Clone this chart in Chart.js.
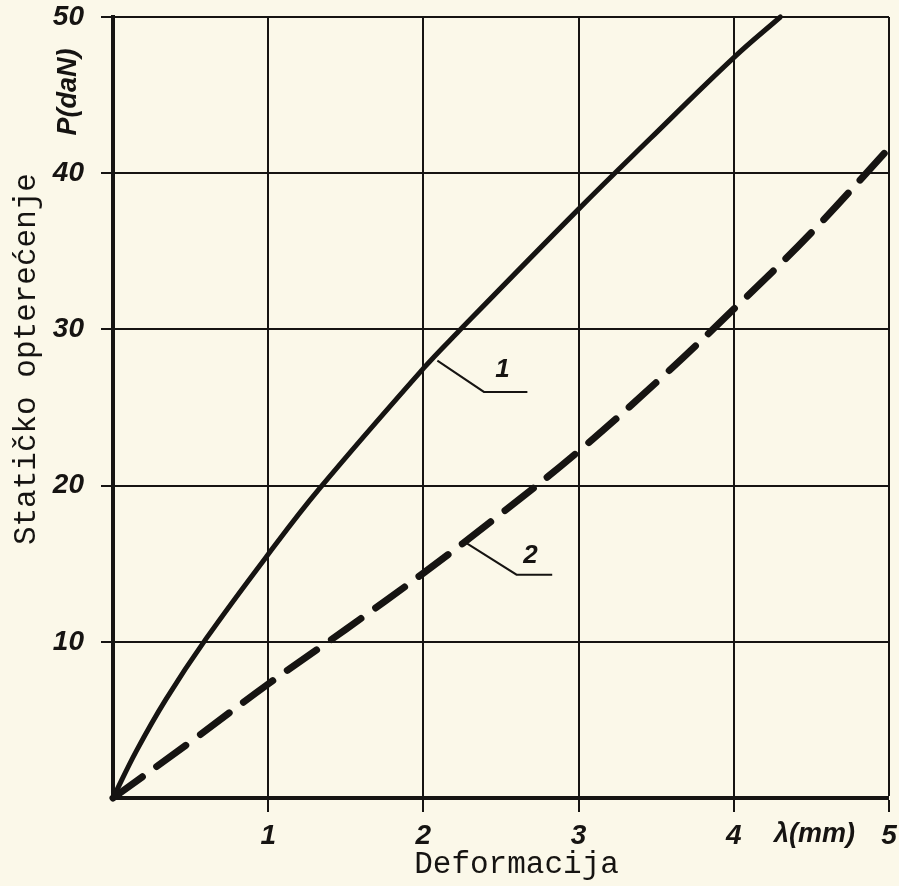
<!DOCTYPE html>
<html>
<head>
<meta charset="utf-8">
<script src="https://cdn.jsdelivr.net/npm/chart.js@4/dist/chart.umd.min.js"></script>
<style>
    html, body { margin: 0; padding: 0; background: #fbf8e9; }
    #wrap { width: 899px; height: 886px; }
</style>
</head>
<body>
<div id="wrap"><canvas id="chart" width="899" height="886"></canvas></div>
<script>
// values
const curve1X = [0, 0.15, 0.34, 0.6, 1, 1.33, 2, 2.22, 3, 3.46, 4, 4.3];
const curve1Y = [0, 3, 6.3, 10.2, 15.6, 19.8, 27.5, 29.8, 37.7, 42.2, 47.4, 50];

const curve2X = [0, 0.5, 1, 1.5, 2, 2.5, 3, 3.5, 4, 4.5, 5];
const curve2Y = [0, 3.6, 7.3, 10.8, 14.4, 18.2, 22.2, 26.6, 31.3, 36.2, 41.6];

const xTicks = [1, 2, 3, 4, 5];
const yTicks = [10, 20, 30, 40, 50];

const curveLabels = ['1', '2'];

const ink = '#161412';
const tickFont = { family: 'Liberation Sans', size: 28, weight: 'bold', style: 'italic' };

// leader lines for the curve numbers (data coordinates)
const leaders = [
    { text: curveLabels[0], at: [2.51, 27.4], path: [[2.09, 28.0], [2.39, 26.0], [2.67, 26.0]] },
    { text: curveLabels[1], at: [2.69, 15.5], path: [[2.28, 16.3], [2.60, 14.3], [2.83, 14.3]] }
];

const toPoints = (xs, ys) => xs.map((x, i) => ({ x, y: ys[i] }));

const paper = {
    id: 'paper',
    beforeDraw(chart) {
        const c = chart.ctx;
        c.save();
        c.fillStyle = '#fbf8e9';
        c.fillRect(0, 0, chart.width, chart.height);
        c.restore();
    },
    afterDatasetsDraw(chart) {
        const c = chart.ctx;
        const xs = chart.scales.x;
        const ys = chart.scales.y;
        const area = chart.chartArea;

        c.save();
        c.strokeStyle = ink;
        c.fillStyle = ink;
        c.lineWidth = 2;
        leaders.forEach(l => {
            c.beginPath();
            l.path.forEach((p, i) => {
                const px = xs.getPixelForValue(p[0]);
                const py = ys.getPixelForValue(p[1]);
                if (i === 0) c.moveTo(px, py); else c.lineTo(px, py);
            });
            c.stroke();
            c.font = 'italic bold 26px "Liberation Sans"';
            c.textAlign = 'center';
            c.textBaseline = 'middle';
            c.fillText(l.text, xs.getPixelForValue(l.at[0]), ys.getPixelForValue(l.at[1]));
        });

        // unit labels next to the axes
        c.font = 'italic bold 27px "Liberation Sans"';
        c.textAlign = 'center';
        c.textBaseline = 'middle';
        c.fillText('\u03bb(mm)', xs.getPixelForValue(4.52), area.bottom + 37);
        c.save();
        c.translate(area.left - 44, ys.getPixelForValue(45.2));
        c.rotate(-Math.PI / 2);
        c.fillText('P(daN)', 0, 0);
        c.restore();

        // axis titles
        c.font = '31px "Liberation Mono"';
        c.fillText('Deformacija', xs.getPixelForValue(2.6), area.bottom + 67);
        c.save();
        c.translate(27, ys.getPixelForValue(28.1));
        c.rotate(-Math.PI / 2);
        c.fillText('Statičko opterećenje', 0, 0);
        c.restore();
        c.restore();
    }
};

new Chart(document.getElementById('chart'), {
    type: 'scatter',
    data: {
        datasets: [
            {
                label: curveLabels[0],
                data: toPoints(curve1X, curve1Y),
                showLine: true,
                borderColor: ink,
                borderWidth: 5,
                pointRadius: 0,
                tension: 0.4,
                borderCapStyle: 'round'
            },
            {
                label: curveLabels[1],
                data: toPoints(curve2X, curve2Y),
                showLine: true,
                borderColor: ink,
                borderWidth: 7,
                pointRadius: 0,
                tension: 0.4,
                borderDash: [36, 18],
                borderCapStyle: 'round'
            }
        ]
    },
    options: {
        responsive: false,
        animation: false,
        clip: false,
        layout: { padding: { left: 0, right: 10, top: 17, bottom: 0 } },
        plugins: {
            legend: { display: false },
            tooltip: { enabled: false }
        },
        scales: {
            x: {
                type: 'linear',
                min: 0,
                max: 5,
                afterFit: s => { s.height = 88; s.paddingLeft = 0; s.paddingRight = 0; },
                afterBuildTicks: s => { s.ticks = [0].concat(xTicks).map(v => ({ value: v })); },
                ticks: {
                    color: ink,
                    font: tickFont,
                    padding: 7,
                    maxRotation: 0,
                    callback: v => (v === 0 ? '' : String(v))
                },
                grid: {
                    color: ink,
                    lineWidth: ctx => (ctx.tick && ctx.tick.value === 0 ? 0 : 2),
                    tickLength: 14
                },
                border: { display: true, color: ink, width: 4 }
            },
            y: {
                type: 'linear',
                min: 0,
                max: 50,
                afterFit: s => { s.width = 113; s.paddingTop = 0; s.paddingBottom = 0; },
                afterBuildTicks: s => { s.ticks = [0].concat(yTicks).map(v => ({ value: v })); },
                ticks: {
                    color: ink,
                    font: tickFont,
                    padding: 17,
                    callback: v => (v === 0 ? '' : String(v))
                },
                grid: {
                    color: ink,
                    lineWidth: ctx => (ctx.tick && ctx.tick.value === 0 ? 0 : 2),
                    tickLength: 12
                },
                border: { display: true, color: ink, width: 4 }
            }
        }
    },
    plugins: [paper]
});
</script>
</body>
</html>
